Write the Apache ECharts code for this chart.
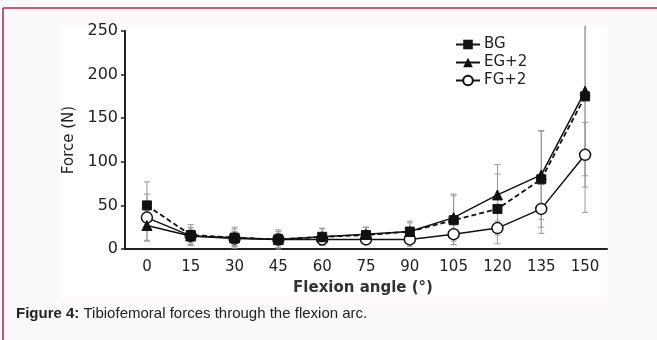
<!DOCTYPE html>
<html>
<head>
<meta charset="utf-8">
<script src="https://cdn.jsdelivr.net/npm/echarts@6/dist/echarts.min.js"></script>
<style>
html,body{margin:0;padding:0;background:#fcf9fb;}
#c{width:657px;height:340px;}
</style>
</head>
<body>
<div id="c"></div>
<script>
var categories = ['0','15','30','45','60','75','90','105','120','135','150'];
var yTicks = [0,50,100,150,200,250];
var bgValues = [50, 16, 13, 11, 14, 16, 20, 33, 46, 80, 175];
var egValues = [27, 15, 13, 11, 14, 17, 20, 36, 62, 85, 181];
var fgValues = [36, 15, 12, 11, 11, 11, 11, 17, 24, 46, 108];
var bgErr = [27, 12, 12, 11, 10, 9, 12, 28, 40, 55, 91];
var egErr = [17, 10, 10, 9, 9, 8, 10, 27, 35, 51, 139];
var fgErr = [27, 8, 8, 7, 7, 6, 8, 12, 8, 28, 37];
var seriesNames = ['BG', 'EG+2', 'FG+2'];

var FONT = 'DejaVu Sans, sans-serif';
var CAP_FONT = 'Liberation Sans, Arial, sans-serif';
var yMax = 250;
var clipTop = 256;

function errData(vals, errs) {
  return vals.map(function (v, i) {
    return [i, Math.max(0, v - errs[i]), Math.min(clipTop, v + errs[i])];
  });
}

function renderErr(params, api) {
  var x = api.value(0);
  var lo = api.value(1), hi = api.value(2);
  var pLo = api.coord([x, lo]);
  var pHi = api.coord([x, hi]);
  var w = 3;
  var st = {stroke: '#9a9a9a', lineWidth: 1};
  var children = [
    {type: 'line', shape: {x1: pLo[0], y1: pLo[1], x2: pHi[0], y2: pHi[1]}, style: st},
    {type: 'line', shape: {x1: pLo[0] - w, y1: pLo[1], x2: pLo[0] + w, y2: pLo[1]}, style: st}
  ];
  if (hi < clipTop) {
    children.push({type: 'line', shape: {x1: pHi[0] - w, y1: pHi[1], x2: pHi[0] + w, y2: pHi[1]}, style: st});
  }
  return {type: 'group', children: children};
}

var chart = echarts.init(document.getElementById('c'), null, {renderer: 'canvas'});
chart.setOption({
  animation: false,
  backgroundColor: '#fcf9fb',
  textStyle: {fontFamily: FONT},
  graphic: [
    {type: 'rect', z: -10, shape: {x: 62, y: 25, width: 545, height: 272}, style: {fill: '#ffffff'}},
    {type: 'line', z: 100, shape: {x1: 3, y1: 8, x2: 657, y2: 8}, style: {stroke: '#b3234f', lineWidth: 1.5}},
    {type: 'line', z: 100, shape: {x1: 3, y1: 8, x2: 3, y2: 340}, style: {stroke: '#b3234f', lineWidth: 1.5}},
    {type: 'text', left: 16, top: 306, style: {
      text: '{b|Figure 4:} Tibiofemoral forces through the flexion arc.',
      fill: '#222', font: '15px ' + CAP_FONT,
      rich: {b: {fontWeight: 'bold', fontSize: 15, fill: '#222', fontFamily: CAP_FONT}}
    }}
  ],
  grid: {left: 125, right: 50, top: 31, bottom: 91, containLabel: false},
  legend: {
    orient: 'vertical',
    left: 450, top: 32,
    itemGap: 3,
    itemWidth: 24, itemHeight: 12,
    textStyle: {fontSize: 15, color: '#222', fontFamily: FONT, padding: [0, 0, 0, -1]},
    data: [
      {name: 'BG', lineStyle: {type: 'solid'}},
      {name: 'EG+2'},
      {name: 'FG+2'}
    ]
  },
  xAxis: {
    type: 'category',
    data: categories,
    boundaryGap: true,
    name: 'Flexion angle (°)',
    nameLocation: 'middle',
    nameGap: 32,
    nameTextStyle: {fontSize: 15, color: '#333', fontFamily: FONT, fontWeight: 'bold', padding: [0, 6, 0, 0]},
    axisLine: {lineStyle: {color: '#222', width: 2}},
    axisTick: {alignWithLabel: true, length: 5, lineStyle: {color: '#222', width: 1.5}},
    axisLabel: {fontSize: 15, color: '#222', margin: 11, fontFamily: FONT, interval: 0},
    splitLine: {show: false}
  },
  yAxis: {
    type: 'value',
    min: 0, max: yMax, interval: 50,
    name: 'Force (N)',
    nameLocation: 'middle',
    nameGap: 48,
    nameRotate: 90,
    nameTextStyle: {fontSize: 15, color: '#222', fontFamily: FONT},
    axisLine: {show: true, lineStyle: {color: '#222', width: 2}},
    axisTick: {show: true, length: 4, lineStyle: {color: '#222', width: 1.5}},
    axisLabel: {fontSize: 16, color: '#222', margin: 7, fontFamily: FONT,
      formatter: function (v) { return yTicks.indexOf(v) >= 0 ? String(v) : ''; }},
    splitLine: {show: false}
  },
  series: [
    {type: 'custom', name: 'errBG', renderItem: renderErr, data: errData(bgValues, bgErr), z: 1, clip: false, silent: true},
    {type: 'custom', name: 'errEG', renderItem: renderErr, data: errData(egValues, egErr), z: 1, clip: false, silent: true},
    {type: 'custom', name: 'errFG', renderItem: renderErr, data: errData(fgValues, fgErr), z: 1, clip: false, silent: true},
    {
      type: 'line', name: 'BG', data: bgValues, z: 5,
      symbol: 'rect', symbolSize: 9,
      lineStyle: {color: '#111', width: 1.8, type: [5, 3]},
      itemStyle: {color: '#111', borderColor: '#111'}
    },
    {
      type: 'line', name: 'EG+2', data: egValues, z: 4,
      symbol: 'triangle', symbolSize: 10,
      lineStyle: {color: '#111', width: 1.5},
      itemStyle: {color: '#111', borderColor: '#111'}
    },
    {
      type: 'line', name: 'FG+2', data: fgValues, z: 3,
      symbol: 'circle', symbolSize: 11,
      lineStyle: {color: '#111', width: 1.5},
      itemStyle: {color: '#ffffff', borderColor: '#111', borderWidth: 1.5}
    }
  ]
});
</script>
</body>
</html>
